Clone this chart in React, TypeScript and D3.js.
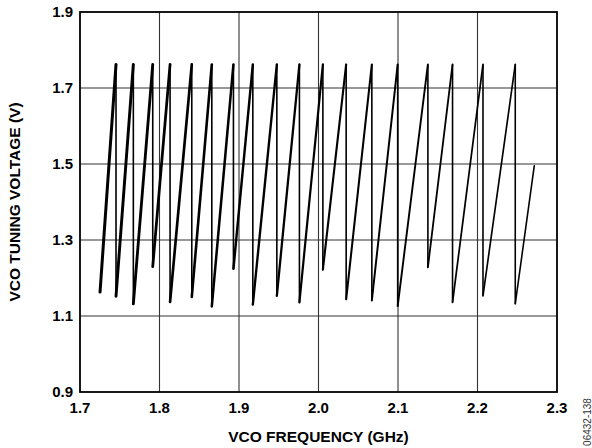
import React from "react";
import * as d3 from "d3";

const xTicks = [1.7, 1.8, 1.9, 2.0, 2.1, 2.2, 2.3];
const yTicks = [0.9, 1.1, 1.3, 1.5, 1.7, 1.9];

// first band start
const startFreq = 1.7252;
const startVolt = 1.163;
// band top (switch) frequencies, GHz
const peakFreqs = [
  1.7453, 1.7671, 1.7915, 1.8133, 1.8406, 1.8658, 1.893, 1.9174, 1.9476,
  1.976, 2.0055, 2.0348, 2.0671, 2.0996, 2.1376, 2.1686, 2.2069, 2.2475,
];
const peakVolts = [
  1.762, 1.762, 1.762, 1.762, 1.762, 1.762, 1.762, 1.762, 1.762,
  1.762, 1.762, 1.762, 1.762, 1.762, 1.762, 1.762, 1.762, 1.762,
];
// voltage after each band switch (start of next band)
const lowVolts = [
  1.152, 1.132, 1.23, 1.137, 1.15, 1.125, 1.224, 1.13, 1.153,
  1.136, 1.222, 1.144, 1.141, 1.126, 1.228, 1.136, 1.153, 1.132,
];
const endFreq = 2.2714;
const endVolt = 1.495;

const W = 592;
const H = 448;
const M = { left: 80, right: 35, top: 12, bottom: 56 };

export default function App() {
  const x = d3.scaleLinear().domain([1.7, 2.3]).range([M.left, W - M.right]);
  const y = d3.scaleLinear().domain([0.9, 1.9]).range([H - M.bottom, M.top]);
  const line = d3
    .line<[number, number]>()
    .x((d) => x(d[0]))
    .y((d) => y(d[1]));

  const rises: [number, number][][] = [];
  const drops: [number, number][][] = [];
  let prev: [number, number] = [startFreq, startVolt];
  peakFreqs.forEach((f, i) => {
    rises.push([prev, [f, peakVolts[i]]]);
    drops.push([[f, peakVolts[i]], [f, lowVolts[i]]]);
    prev = [f, lowVolts[i]];
  });
  rises.push([prev, [endFreq, endVolt]]);

  const font = "'Liberation Sans', Arial, sans-serif";
  const x0 = x(1.7), x1 = x(2.3), y0 = y(0.9), y1 = y(1.9);
  const fs = 15;

  return (
    <svg
      width={W}
      height={H}
      style={{ position: "fixed", left: 0, top: 0, background: "#fff" }}
      fontFamily={font}
    >
      <rect x={0} y={0} width={W} height={H} fill="#fff" />
      {xTicks.slice(1, -1).map((t) => (
        <line key={"gx" + t} x1={x(t)} x2={x(t)} y1={y1} y2={y0} stroke="#333" strokeWidth={1.1} />
      ))}
      {yTicks.slice(1, -1).map((t) => (
        <line key={"gy" + t} x1={x0} x2={x1} y1={y(t)} y2={y(t)} stroke="#333" strokeWidth={1.1} />
      ))}
      {drops.map((s, i) => (
        <path key={"d" + i} d={line(s) || ""} fill="none" stroke="#000" strokeWidth={1.6} />
      ))}
      {rises.map((s, i) => (
        <path
          key={"r" + i}
          d={line(s) || ""}
          fill="none"
          stroke="#000"
          strokeWidth={3 - (1.5 * i) / rises.length}
          strokeLinecap="round"
        />
      ))}
      <rect x={x0} y={y1} width={x1 - x0} height={y0 - y1} fill="none" stroke="#000" strokeWidth={1.8} />
      {xTicks.map((t) => (
        <text key={"xt" + t} x={x(t)} y={y0 + 21} textAnchor="middle" fontSize={fs} fontWeight="bold">
          {t.toFixed(1)}
        </text>
      ))}
      {yTicks.map((t) => (
        <text key={"yt" + t} x={x0 - 7} y={y(t) + 5} textAnchor="end" fontSize={fs} fontWeight="bold">
          {t.toFixed(1)}
        </text>
      ))}
      <text x={(x0 + x1) / 2} y={y0 + 50} textAnchor="middle" fontSize={15.5} fontWeight="bold">
        VCO FREQUENCY (GHz)
      </text>
      <text
        transform={`translate(20,${(y0 + y1) / 2}) rotate(-90)`}
        textAnchor="middle"
        fontSize={15.5}
        fontWeight="bold"
      >
        VCO TUNING VOLTAGE (V)
      </text>
      <text
        transform={`translate(591,422) rotate(-90)`}
        textAnchor="middle"
        fontSize={10}
        fill="#333"
      >
        06432-138
      </text>
    </svg>
  );
}
